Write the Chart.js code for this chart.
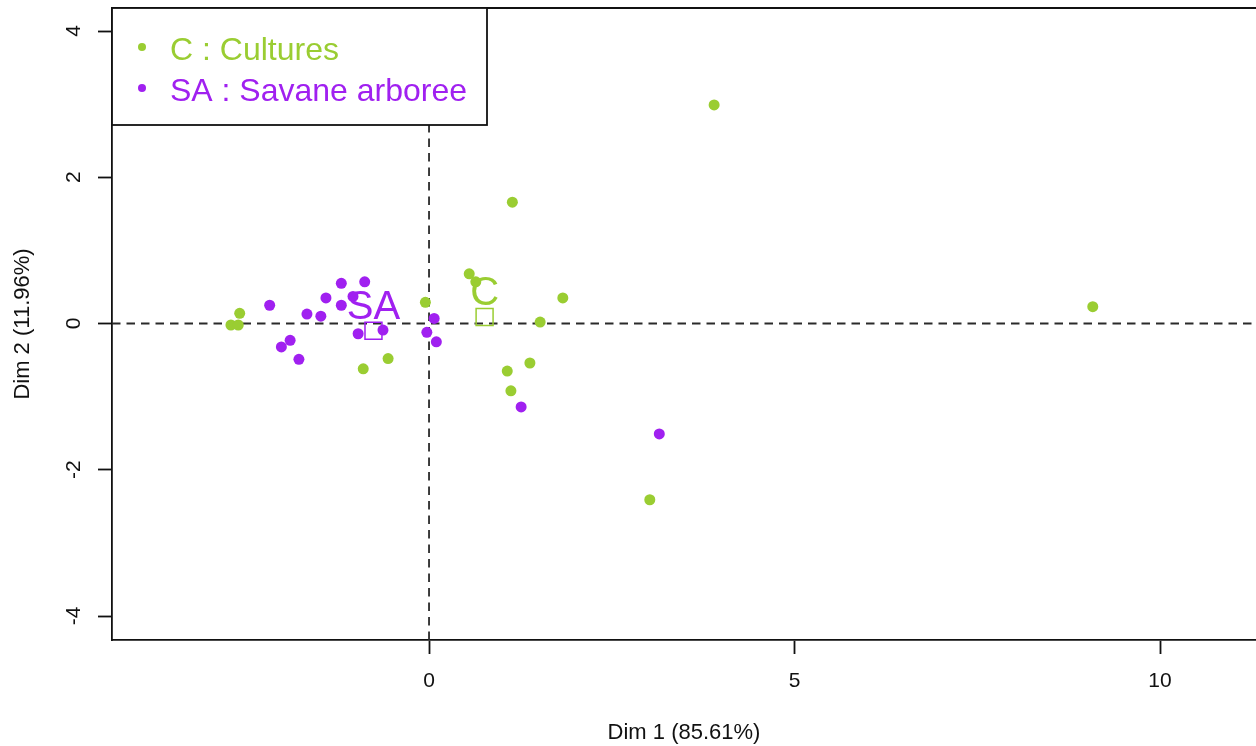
<!DOCTYPE html>
<html>
<head>
<meta charset="utf-8">
<title>Individus - Dim 1 / Dim 2</title>
<script src="https://cdn.jsdelivr.net/npm/chart.js@4/dist/chart.umd.min.js"></script>
<style>
  html, body { margin: 0; padding: 0; background: #fff; overflow: hidden; }
  canvas { display: block; }
</style>
</head>
<body>
<canvas id="pca" width="1256" height="746"></canvas>
<script>
// Groups (qualitative variable) and their legend entries
const groupCodes = ['C', 'SA'];
const groupNames = ['C : Cultures', 'SA : Savane arboree'];

// Individual coordinates on Dim 1 / Dim 2, group C
const cultX = [-2.59, -2.71, -2.61, -0.90, -0.56, -0.05, 0.55, 0.64, 1.52, 1.83, 1.38, 1.07, 1.12, 1.14, 3.90, 3.02, 9.08];
const cultY = [0.14, -0.02, -0.02, -0.62, -0.48, 0.29, 0.68, 0.57, 0.02, 0.35, -0.54, -0.65, -0.92, 1.66, 2.99, -2.41, 0.23];

// Individual coordinates on Dim 1 / Dim 2, group SA
const savX = [-2.18, -1.67, -1.48, -1.41, -1.20, -0.88, -1.20, -1.04, -0.97, -0.63, -1.90, -2.02, -1.78, 0.07, -0.03, 0.10, 1.26, 3.15];
const savY = [0.25, 0.13, 0.10, 0.35, 0.55, 0.57, 0.25, 0.37, -0.14, -0.09, -0.23, -0.32, -0.49, 0.07, -0.12, -0.25, -1.14, -1.51];

// Group barycentres (C, SA)
const centroidX = [0.76, -0.76];
const centroidY = [0.09, -0.10];

// Axis ticks and titles
const xTicks = [0, 5, 10];
const yTicks = [-4, -2, 0, 2, 4];
const xTitle = 'Dim 1 (85.61%)';
const yTitle = 'Dim 2 (11.96%)';

const GREEN = '#9ACD32';
const PURPLE = '#A020F0';
const groupColors = [GREEN, PURPLE];
const FONT = '"Liberation Sans", Arial, sans-serif';

const toPoints = (xs, ys) => xs.map((x, i) => ({ x: x, y: ys[i] }));

// Dashed reference lines through the origin
const originLines = {
  id: 'originLines',
  beforeDatasetsDraw(chart) {
    const { ctx, chartArea: a, scales: { x, y } } = chart;
    const px = x.getPixelForValue(0);
    const py = y.getPixelForValue(0);
    ctx.save();
    ctx.beginPath();
    ctx.rect(a.left, a.top, a.right - a.left, a.bottom - a.top);
    ctx.clip();
    ctx.strokeStyle = '#2a2a2a';
    ctx.lineWidth = 1.8;
    ctx.setLineDash([8.5, 6]);
    ctx.beginPath();
    ctx.moveTo(a.left, py);
    ctx.lineTo(a.right, py);
    ctx.moveTo(px, a.bottom);
    ctx.lineTo(px, a.top);
    ctx.stroke();
    ctx.restore();
  }
};

// Group codes written above each barycentre
const groupLabels = {
  id: 'groupLabels',
  afterDatasetsDraw(chart) {
    const { ctx, scales: { x, y } } = chart;
    ctx.save();
    ctx.font = '40px ' + FONT;
    ctx.textAlign = 'center';
    ctx.textBaseline = 'alphabetic';
    groupCodes.forEach((code, i) => {
      ctx.fillStyle = groupColors[i];
      ctx.fillText(code, x.getPixelForValue(centroidX[i]), y.getPixelForValue(centroidY[i]) - 12);
    });
    ctx.restore();
  }
};

// Frame top edge and boxed legend in the upper-left corner
const frameAndLegend = {
  id: 'frameAndLegend',
  afterDraw(chart) {
    const { ctx, chartArea: a } = chart;
    ctx.save();
    ctx.strokeStyle = '#111';
    ctx.lineWidth = 1.8;
    ctx.beginPath();
    ctx.moveTo(a.left, a.top);
    ctx.lineTo(a.right, a.top);
    ctx.stroke();

    const bx = a.left, by = a.top, bw = 375, bh = 117;
    ctx.fillStyle = '#fff';
    ctx.fillRect(bx, by, bw, bh);
    ctx.strokeRect(bx, by, bw, bh);

    ctx.font = '32px ' + FONT;
    ctx.textAlign = 'left';
    ctx.textBaseline = 'middle';
    groupNames.forEach((name, i) => {
      const cy = by + 39 + i * 41;
      ctx.fillStyle = groupColors[i];
      ctx.beginPath();
      ctx.arc(bx + 30, cy, 4, 0, Math.PI * 2);
      ctx.fill();
      ctx.fillText(name, bx + 58, cy + 4);
    });
    ctx.restore();
  }
};

new Chart(document.getElementById('pca'), {
  type: 'scatter',
  data: {
    datasets: [
      {
        label: groupNames[0],
        data: toPoints(cultX, cultY),
        backgroundColor: GREEN,
        borderWidth: 0,
        pointRadius: 5.5
      },
      {
        label: groupNames[1],
        data: toPoints(savX, savY),
        backgroundColor: PURPLE,
        borderWidth: 0,
        pointRadius: 5.5
      },
      {
        label: 'barycentres',
        data: toPoints(centroidX, centroidY),
        pointStyle: 'rect',
        pointRadius: 12,
        backgroundColor: 'rgba(0,0,0,0)',
        borderColor: groupColors,
        borderWidth: 1.5
      }
    ]
  },
  options: {
    responsive: false,
    animation: false,
    devicePixelRatio: 1,
    layout: { autoPadding: false, padding: { top: 8, left: 0, right: 0, bottom: 0 } },
    plugins: {
      legend: { display: false },
      tooltip: { enabled: false }
    },
    scales: {
      x: {
        type: 'linear',
        position: 'bottom',
        min: -4.337,
        max: 11.313,
        afterBuildTicks(scale) { scale.ticks = xTicks.map(v => ({ value: v })); },
        afterFit(scale) { scale.height = 106; scale.paddingLeft = 0; scale.paddingRight = 0; },
        grid: { drawOnChartArea: false, drawTicks: true, tickLength: 14, color: '#111', tickColor: '#111', tickWidth: 1.8 },
        border: { display: true, color: '#111', width: 1.8 },
        ticks: { color: '#111', padding: 15, font: { family: FONT, size: 21 }, maxRotation: 0 },
        title: { display: true, text: xTitle, color: '#111', font: { family: FONT, size: 22 }, padding: { top: 0, bottom: 0 } }
      },
      y: {
        type: 'linear',
        position: 'left',
        min: -4.328,
        max: 4.315,
        afterBuildTicks(scale) { scale.ticks = yTicks.map(v => ({ value: v })); },
        afterFit(scale) { scale.width = 112; scale.paddingTop = 0; scale.paddingBottom = 0; },
        grid: { drawOnChartArea: false, drawTicks: true, tickLength: 14, color: '#111', tickColor: '#111', tickWidth: 1.8 },
        border: { display: true, color: '#111', width: 1.8 },
        ticks: { color: '#111', padding: 14.5, minRotation: 90, maxRotation: 90, crossAlign: 'center', font: { family: FONT, size: 21 } },
        title: { display: true, text: yTitle, color: '#111', font: { family: FONT, size: 22 }, padding: { top: 10, bottom: 0 } }
      }
    }
  },
  plugins: [originLines, groupLabels, frameAndLegend]
});
</script>
</body>
</html>
